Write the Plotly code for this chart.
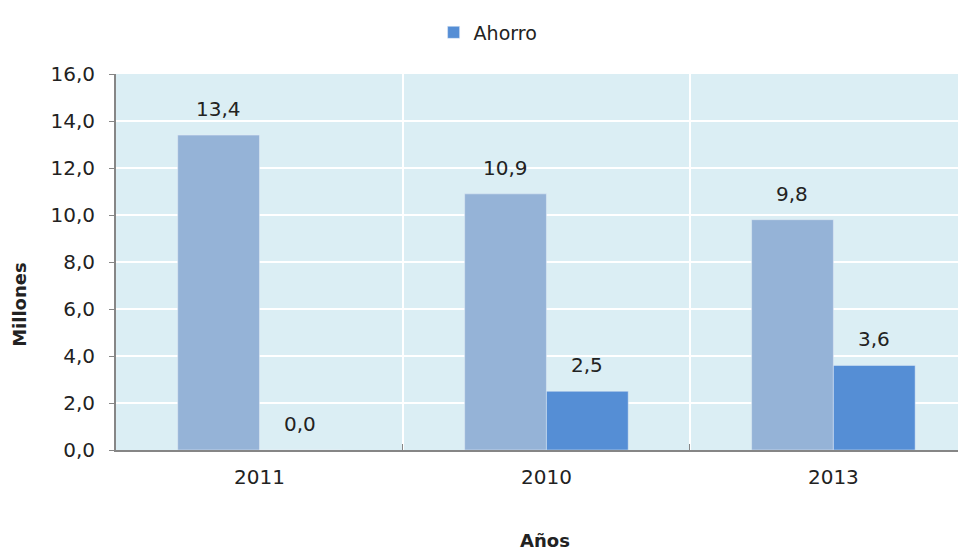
import plotly.graph_objects as go

years = ["2011", "2010", "2013"]
total = [13.4, 10.9, 9.8]
ahorro = [0.0, 2.5, 3.6]

font_family = "DejaVu Sans, Verdana, sans-serif"

fig = go.Figure()

fig.add_trace(go.Bar(
    x=years, y=total,
    name="Total",
    marker=dict(color="#95B3D7"),
    showlegend=False,
))
fig.add_trace(go.Bar(
    x=years, y=ahorro,
    name="Ahorro",
    marker=dict(color="#558ED5"),
))

# Data labels above each bar (x given as category index)
for i in range(len(years)):
    for vals, shift in ((total, -41), (ahorro, 41)):
        fig.add_annotation(
            x=i, y=vals[i], xref="x", yref="y",
            text=f"{vals[i]:.1f}".replace(".", ","),
            showarrow=False, xshift=shift, yshift=12,
            yanchor="bottom",
            font=dict(size=20, color="#222222", family=font_family),
        )

# Y axis title sits below the middle of the axis in the original
fig.add_annotation(
    x=0, y=0.386, xref="paper", yref="paper",
    xanchor="center", yanchor="middle",
    text="<b>Millones</b>", textangle=-90,
    showarrow=False, xshift=-96,
    font=dict(size=18, color="#222222", family=font_family),
)

fig.update_layout(
    width=966, height=549,
    margin=dict(l=108, r=0, t=66, b=107),
    paper_bgcolor="white",
    plot_bgcolor="#DBEEF4",
    barmode="group",
    bargap=0.43,
    bargroupgap=0,
    separators=",.",
    font=dict(family=font_family, size=20, color="#222222"),
    legend=dict(
        orientation="h", x=0.497, xref="container", xanchor="center",
        y=0.99, yref="container", yanchor="top",
        font=dict(size=19, color="#222222"),
        itemwidth=30,
    ),
)

fig.update_xaxes(
    type="category",
    range=[-0.5, 2.49],
    automargin=False,
    tickson="boundaries",
    ticks="inside", ticklen=6, tickcolor="#868686",
    ticklabelstandoff=8,
    showgrid=True, gridcolor="white", gridwidth=2,
    showline=True, linecolor="#868686", linewidth=2,
    tickfont=dict(size=20),
    title=dict(text="<b>Años</b>", font=dict(size=18), standoff=46),
)
fig.update_yaxes(
    range=[0, 16], dtick=2, tickformat=".1f",
    automargin=False,
    ticks="outside", ticklen=5, tickcolor="#868686",
    ticklabelstandoff=10,
    showgrid=True, gridcolor="white", gridwidth=2,
    showline=True, linecolor="#868686", linewidth=2,
    zeroline=False,
    tickfont=dict(size=20),
)

fig.write_html("out.html")
